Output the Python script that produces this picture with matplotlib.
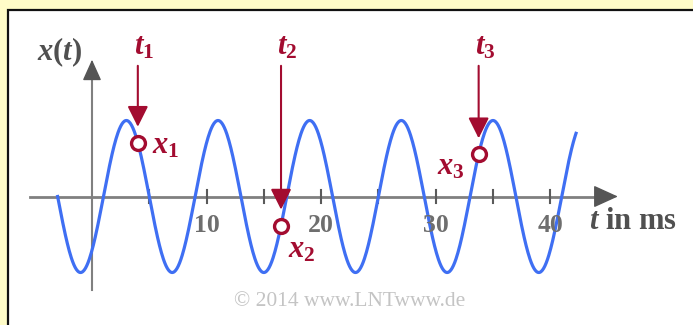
import matplotlib
matplotlib.use('Agg')
import matplotlib.pyplot as plt
from matplotlib.patches import Rectangle
import numpy as np

# schrift: fette Serifenschrift, Formelzeichen kursiv
plt.rcParams['font.family'] = 'Liberation Serif'
plt.rcParams['mathtext.fontset'] = 'custom'
plt.rcParams['mathtext.rm'] = 'Liberation Serif:bold'
plt.rcParams['mathtext.it'] = 'Liberation Serif:italic:bold'
plt.rcParams['mathtext.bf'] = 'Liberation Serif:bold'

# Signal x(t) = A*cos(2*pi*(t - t_peak)/T), t in ms
A = 1.0
T = 8.0
t_peak = 3.0
t_start = -3.0
t_end = 42.25

# Abtastzeitpunkte t_1, t_2, t_3
t_samples = [4.0, 16.5, 33.75]
sample_idx = ['1', '2', '3']

tick_pos = [5, 10, 15, 20, 25, 30, 35, 40]
tick_text = ['', '10', '', '20', '', '30', '', '40']

RED = '#a30c30'
BLUE = '#3f6ff3'
GRAY = '#808080'
DARK = '#555555'

fig = plt.figure(figsize=(6.93, 3.25), dpi=100)
fig.patch.set_facecolor('#fffcc8')
ax = fig.add_axes([0, 0, 1, 1])
ax.set_xlim(-8.03, 52.46)
ax.set_ylim(-1.691, 2.586)
ax.axis('off')

# weisses Feld mit Rahmen
ax.add_patch(Rectangle((8 / 693, -0.1), 1.2, 1.1 - 10 / 325, transform=ax.transAxes,
                       facecolor='white', edgecolor='#111111', lw=1.6, clip_on=False, zorder=0))

# Achsen
ax.plot([-5.4, 44.8], [0, 0], color=GRAY, lw=2.0, zorder=1)
ax.annotate('', xy=(45.9, 0), xytext=(44.0, 0),
            arrowprops=dict(arrowstyle='-|>,head_length=1.1,head_width=0.5', color=DARK,
                            lw=1, mutation_scale=14, shrinkA=0, shrinkB=0), zorder=1)
ax.plot([0, 0], [-1.23, 1.6], color=GRAY, lw=1.5, zorder=1)
ax.annotate('', xy=(0, 1.80), xytext=(0, 1.55),
            arrowprops=dict(arrowstyle='-|>,head_length=1.0,head_width=0.45', color=DARK,
                            lw=1, mutation_scale=13, shrinkA=0, shrinkB=0), zorder=1)
for p, s in zip(tick_pos, tick_text):
    ax.plot([p, p], [-0.09, 0.09], color='#5a5a5a', lw=1.5, zorder=1)
    if s:
        ax.text(p, -0.375, s, ha='center', va='center', fontsize=18.5,
                fontweight='bold', color='#6e6e6e')

ax.text(-2.79, 1.90, r'$x(t)$', ha='center', va='center', fontsize=22, color='#505050')
ax.text(43.4, -0.335, r'$t$ in ms', ha='left', va='center', fontsize=22,
        fontweight='bold', color='#505050')

# Signalverlauf
t = np.linspace(t_start, t_end, 800)
x = A * np.cos(2 * np.pi * (t - t_peak) / T)
ax.plot(t, x, color=BLUE, lw=2.3, zorder=2)

# Abtastwerte mit Pfeilen
x_samples = [A * np.cos(2 * np.pi * (ts - t_peak) / T) for ts in t_samples]
label_offsets = [((10, -2), 'left', 'center'), ((5, -7), 'left', 'top'), ((-10, -9), 'right', 'center')]
for ts, xs, k, (off, ha, va) in zip(t_samples, x_samples, sample_idx, label_offsets):
    ax.annotate('', xy=(ts, xs + 0.21), xytext=(ts, 1.72),
                arrowprops=dict(arrowstyle='-|>,head_length=0.9,head_width=0.45', color=RED,
                                lw=1.5, mutation_scale=14, shrinkA=0, shrinkB=0), zorder=4)
    ax.text(ts + 0.55, 1.97, r'$t_{%s}$' % k, ha='center', va='center', fontsize=22, color=RED)
    ax.annotate(r'$x_{%s}$' % k, xy=(ts, xs), xytext=off, textcoords='offset points',
                ha=ha, va=va, fontsize=22, color=RED)
ax.plot(t_samples, x_samples, 'o', ms=10, mfc='white', mec=RED, mew=2.4, zorder=5)

ax.text(0.504, 0.071, '© 2014 www.LNTwww.de', transform=ax.transAxes, ha='center',
        va='center', fontsize=15.5, color='#c4c4c4')

fig.savefig('out.png', dpi=100, facecolor=fig.get_facecolor())
